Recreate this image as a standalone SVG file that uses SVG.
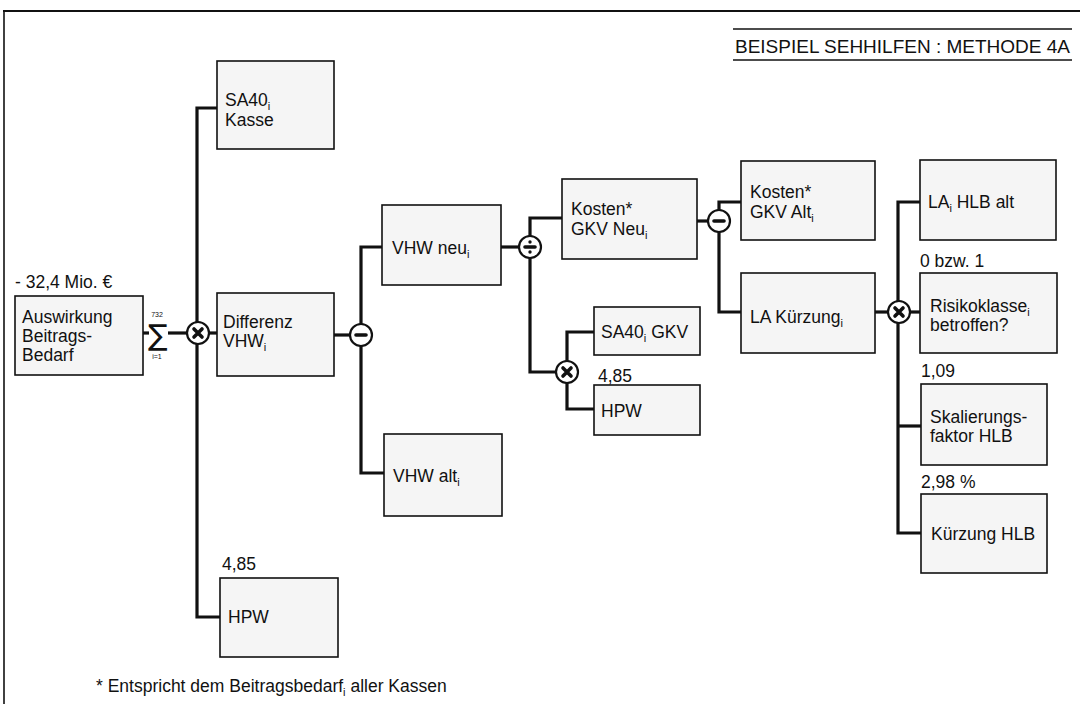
<svg xmlns="http://www.w3.org/2000/svg" width="1080" height="704" viewBox="0 0 1080 704">
<style>
text{font-family:"Liberation Sans",Arial,"DejaVu Sans",sans-serif;font-size:17.5px;fill:#111}
.box{fill:#f5f5f5;stroke:#111;stroke-width:1.6}
.con{fill:none;stroke:#111;stroke-width:3.2;stroke-linejoin:miter;stroke-linecap:butt}
.op{fill:#fff;stroke:#111;stroke-width:2.2}
.sym{fill:none;stroke:#111;stroke-width:3.6;stroke-linecap:round}
.sub{font-size:11px}
.rule{stroke:#111;stroke-width:1.6}
.small{font-size:7px}
</style>
<rect width="1080" height="704" fill="#fff"/>
<!-- frame -->
<line x1="3" y1="11" x2="1080" y2="11" stroke="#111" stroke-width="2"/>
<line x1="4" y1="10" x2="4" y2="704" stroke="#111" stroke-width="1.6"/>
<!-- header -->
<g id="header">
<line class="rule" x1="733" y1="29" x2="1072" y2="29"/>
<line class="rule" x1="733" y1="60" x2="1072" y2="60"/>
<text x="735" y="53" textLength="335" lengthAdjust="spacingAndGlyphs" style="font-size:18px">BEISPIEL SEHHILFEN : METHODE 4A</text>
</g>
<!-- connectors -->
<g id="connectors">
<path class="con" d="M143 333 H149"/>
<path class="con" d="M168 333 H188"/>
<path class="con" d="M217 108 H197 V617 H220"/>
<path class="con" d="M197 333 H217"/>
<path class="con" d="M334 335 H361"/>
<path class="con" d="M382 247 H361 V473 H384"/>
<path class="con" d="M501 247 H530"/>
<path class="con" d="M562 218 H530 V372 H567"/>
<path class="con" d="M594 332 H567 V409 H594"/>
<path class="con" d="M697 221 H719"/>
<path class="con" d="M741 202 H719 V312 H741"/>
<path class="con" d="M875 312 H899"/>
<path class="con" d="M920 202 H898 V533 H921"/>
<path class="con" d="M898 312 H920"/>
<path class="con" d="M898 426 H921"/>
</g>
<!-- operators -->
<g id="op-sum">
<text x="148" y="345" style="font-size:29px;font-family:'DejaVu Sans',sans-serif">∑</text>
<text x="157" y="317" class="small" text-anchor="middle">732</text>
<text x="157" y="359" class="small" text-anchor="middle">i=1</text>
</g>
<g id="op-mul1"><circle class="op" cx="198" cy="333" r="11"/><path class="sym" d="M194 329 L202 337 M202 329 L194 337"/></g>
<g id="op-minus1"><circle class="op" cx="361" cy="335" r="11"/><path class="sym" d="M356 335 H366"/></g>
<g id="op-div"><circle class="op" cx="530" cy="247" r="11"/><path class="sym" d="M525 247 H535"/><circle cx="530" cy="242" r="1.7" fill="#111"/><circle cx="530" cy="252" r="1.7" fill="#111"/></g>
<g id="op-mul2"><circle class="op" cx="567" cy="372" r="11"/><path class="sym" d="M563 368 L571 376 M571 368 L563 376"/></g>
<g id="op-minus2"><circle class="op" cx="719" cy="221" r="11"/><path class="sym" d="M714 221 H724"/></g>
<g id="op-mul3"><circle class="op" cx="899" cy="312" r="11"/><path class="sym" d="M895 308 L903 316 M903 308 L895 316"/></g>
<!-- nodes -->
<g id="n-auswirkung">
<text x="15" y="288">- 32,4 Mio. €</text>
<rect class="box" x="15" y="296" width="128" height="79"/>
<text x="22" y="323">Auswirkung</text>
<text x="22" y="342">Beitrags-</text>
<text x="22" y="361">Bedarf</text>
</g>
<g id="n-sa40kasse">
<rect class="box" x="217" y="61" width="117" height="88"/>
<text x="225" y="106">SA40<tspan class="sub" dy="4">i</tspan></text>
<text x="225" y="126">Kasse</text>
</g>
<g id="n-differenz">
<rect class="box" x="217" y="293" width="117" height="83"/>
<text x="223" y="328">Differenz</text>
<text x="223" y="347">VHW<tspan class="sub" dy="4">i</tspan></text>
</g>
<g id="n-hpw1">
<text x="222" y="570">4,85</text>
<rect class="box" x="220" y="578" width="118" height="79"/>
<text x="228" y="623">HPW</text>
</g>
<g id="n-vhwneu">
<rect class="box" x="382" y="205" width="119" height="80"/>
<text x="392" y="254">VHW neu<tspan class="sub" dy="4">i</tspan></text>
</g>
<g id="n-vhwalt">
<rect class="box" x="384" y="434" width="118" height="82"/>
<text x="393" y="482">VHW alt<tspan class="sub" dy="4">i</tspan></text>
</g>
<g id="n-kostenneu">
<rect class="box" x="562" y="179" width="135" height="80"/>
<text x="571" y="215">Kosten*</text>
<text x="571" y="235">GKV Neu<tspan class="sub" dy="4">i</tspan></text>
</g>
<g id="n-sa40gkv">
<rect class="box" x="594" y="307" width="106" height="48"/>
<text x="601" y="338">SA40<tspan class="sub" dy="4">i</tspan><tspan dy="-4"> GKV</tspan></text>
</g>
<g id="n-hpw2">
<text x="598" y="382">4,85</text>
<rect class="box" x="594" y="385" width="106" height="50"/>
<text x="601" y="417">HPW</text>
</g>
<g id="n-kostenalt">
<rect class="box" x="741" y="161" width="134" height="79"/>
<text x="750" y="198">Kosten*</text>
<text x="750" y="218">GKV Alt<tspan class="sub" dy="4">i</tspan></text>
</g>
<g id="n-lakuerzung">
<rect class="box" x="741" y="273" width="134" height="80"/>
<text x="750" y="323">LA Kürzung<tspan class="sub" dy="4">i</tspan></text>
</g>
<g id="n-lahlbalt">
<rect class="box" x="920" y="160" width="136" height="80"/>
<text x="928" y="208">LA<tspan class="sub" dy="4">i</tspan><tspan dy="-4"> HLB alt</tspan></text>
</g>
<g id="n-risiko">
<text x="920" y="267">0 bzw. 1</text>
<rect class="box" x="920" y="273" width="137" height="80"/>
<text x="930" y="312">Risikoklasse<tspan class="sub" dy="4">i</tspan></text>
<text x="930" y="331">betroffen?</text>
</g>
<g id="n-skalierung">
<text x="921" y="377">1,09</text>
<rect class="box" x="921" y="384" width="126" height="81"/>
<text x="930" y="423">Skalierungs-</text>
<text x="930" y="442">faktor HLB</text>
</g>
<g id="n-kuerzunghlb">
<text x="921" y="488">2,98 %</text>
<rect class="box" x="921" y="494" width="126" height="79"/>
<text x="931" y="540">Kürzung HLB</text>
</g>
<g id="footnote">
<text x="96" y="692" style="font-size:17.5px">* Entspricht dem Beitragsbedarf<tspan class="sub" dy="4">i</tspan><tspan dy="-4"> aller Kassen</tspan></text>
</g>
</svg>
